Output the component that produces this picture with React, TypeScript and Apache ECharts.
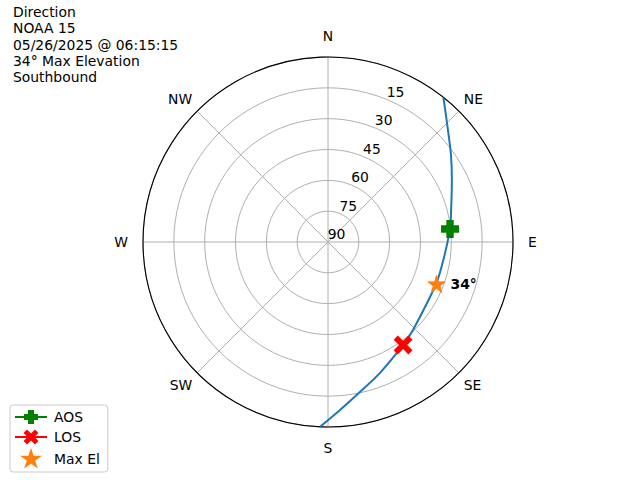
import React, { useEffect, useRef } from "react";
import * as echarts from "echarts";

// Pass track: azimuth (deg, clockwise from north) and elevation (deg)
const trackAz = [38.6, 47.0, 54.7, 63.4, 76.7, 83.9, 98.9, 111.1, 136.0, 143.9, 158.3, 168.0, 175.9, 182.5];
const trackEl = [0.0, 10.2, 16.7, 22.6, 28.5, 30.3, 33.2, 33.6, 30.5, 28.0, 21.5, 15.4, 8.1, 0.0];

const aosPoint = { az: 83.9, el: 30.3 };
const losPoint = { az: 143.9, el: 28.0 };
const maxElPoint = { az: 111.1, el: 33.4 };

const compassValues = [0, 45, 90, 135, 180, 225, 270, 315];
const compassLabels = ["N", "NE", "E", "SE", "S", "SW", "W", "NW"];
const titleLines = ["Direction", "NOAA 15", "05/26/2025 @ 06:15:15", "34° Max Elevation", "Southbound"];
const maxElLabel = "34°";

const PLUS = "path://M-1,-3 L1,-3 L1,-1 L3,-1 L3,1 L1,1 L1,3 L-1,3 L-1,1 L-3,1 L-3,-1 L-1,-1 Z";
const XMARK = "path://M-3,-2 L-2,-3 L0,-1 L2,-3 L3,-2 L1,0 L3,2 L2,3 L0,1 L-2,3 L-3,2 L-1,0 Z";
const STAR = "path://M0,-1 L0.2245,-0.309 L0.951,-0.309 L0.363,0.118 L0.588,0.809 L0,0.382 L-0.588,0.809 L-0.363,0.118 L-0.951,-0.309 L-0.2245,-0.309 Z";

const FONT = "DejaVu Sans";
const FS = 13.9;

export default function App() {
  const ref = useRef<HTMLDivElement>(null);
  useEffect(() => {
    if (!ref.current) return;
    const chart = echarts.init(ref.current, null, { renderer: "svg" });
    const richKey: Record<string, string> = { N: "n", S: "s", E: "e", W: "w" };
    const option: any = {
      animation: false,
      backgroundColor: "#ffffff",
      textStyle: { fontFamily: FONT },
      title: {
        text: titleLines.join("\n"),
        left: 13,
        top: 4,
        padding: 0,
        textStyle: { fontFamily: FONT, fontSize: FS, fontWeight: "normal", color: "#000", lineHeight: 16.3 },
      },
      legend: {
        orient: "vertical",
        left: 10,
        top: 405,
        padding: [5, 8, 5, 4],
        itemWidth: 32,
        itemHeight: 15,
        itemGap: 6,
        borderColor: "#cccccc",
        borderWidth: 1,
        borderRadius: 3,
        backgroundColor: "#ffffff",
        textStyle: { fontFamily: FONT, fontSize: FS, color: "#000", padding: [0, 0, 0, 2] },
        data: ["AOS", "LOS", "Max El"],
      },
      polar: [
        { center: [328, 242], radius: 185 },
        { center: [336.5, 234], radius: 185 },
      ],
      angleAxis: [
        {
          polarIndex: 0,
          type: "value",
          min: 0,
          max: 360,
          interval: 45,
          startAngle: 90,
          clockwise: true,
          axisLine: { lineStyle: { color: "#000", width: 1.1 } },
          axisTick: { show: false },
          splitLine: { lineStyle: { color: "#b0b0b0", width: 1 } },
          axisLabel: {
            margin: 7,
            color: "#000",
            fontFamily: FONT,
            fontSize: FS,
            formatter: (v: number) => {
              const i = compassValues.indexOf(v);
              if (i < 0) return "";
              const lab = compassLabels[i];
              const k = richKey[lab] || "d";
              return `{${k}|${lab}}`;
            },
            rich: {
              n: { padding: [0, 0, 7, 0], fontSize: FS, fontFamily: FONT, color: "#000" },
              s: { padding: [7, 0, 0, 0], fontSize: FS, fontFamily: FONT, color: "#000" },
              e: { padding: [0, 0, 0, 8], fontSize: FS, fontFamily: FONT, color: "#000" },
              w: { padding: [0, 8, 0, 0], fontSize: FS, fontFamily: FONT, color: "#000" },
              d: { fontSize: FS, fontFamily: FONT, color: "#000" },
            },
          },
        },
        {
          polarIndex: 1,
          type: "value",
          min: 0,
          max: 360,
          startAngle: 67.5,
          clockwise: true,
          show: false,
        },
      ],
      radiusAxis: [
        {
          polarIndex: 0,
          type: "value",
          min: 0,
          max: 90,
          interval: 15,
          inverse: true,
          axisLine: { show: false },
          axisTick: { show: false },
          axisLabel: { show: false },
          splitLine: { lineStyle: { color: "#b0b0b0", width: 1 } },
        },
        {
          polarIndex: 1,
          type: "value",
          min: 0,
          max: 90,
          interval: 15,
          inverse: true,
          axisLine: { show: false },
          axisTick: { show: false },
          splitLine: { show: false },
          axisLabel: {
            margin: 0,
            align: "center",
            verticalAlign: "middle",
            color: "#000",
            fontFamily: FONT,
            fontSize: FS,
            formatter: (v: number) => (v === 0 ? "" : String(v)),
          },
        },
      ],
      series: [
        {
          name: "Track",
          type: "line",
          coordinateSystem: "polar",
          polarIndex: 0,
          smooth: 0.3,
          showSymbol: false,
          symbol: "none",
          lineStyle: { color: "#1f77b4", width: 2 },
          data: trackAz.map((a, i) => [trackEl[i], a]),
          z: 2,
        },
        {
          name: "AOS",
          type: "line",
          coordinateSystem: "polar",
          polarIndex: 0,
          symbol: PLUS,
          symbolSize: 16,
          showSymbol: true,
          itemStyle: { color: "#008000", borderColor: "#008000", borderWidth: 2, opacity: 1 },
          lineStyle: { color: "#008000", width: 2 },
          data: [[aosPoint.el, aosPoint.az]],
          z: 5,
        },
        {
          name: "LOS",
          type: "line",
          coordinateSystem: "polar",
          polarIndex: 0,
          symbol: XMARK,
          symbolSize: 16,
          showSymbol: true,
          itemStyle: { color: "#ff0000", borderColor: "#ff0000", borderWidth: 2, opacity: 1 },
          lineStyle: { color: "#ff0000", width: 2 },
          data: [[losPoint.el, losPoint.az]],
          z: 5,
        },
        {
          name: "Max El",
          type: "scatter",
          coordinateSystem: "polar",
          polarIndex: 0,
          symbol: STAR,
          symbolSize: 17,
          itemStyle: { color: "#ff7f0e", borderColor: "#ff7f0e", borderWidth: 1, opacity: 1 },
          label: {
            show: true,
            position: "right",
            distance: 5,
            formatter: maxElLabel,
            fontFamily: FONT,
            fontSize: FS,
            fontWeight: "bold",
            color: "#000",
          },
          data: [[maxElPoint.el, maxElPoint.az]],
          z: 5,
        },
      ],
    };
    chart.setOption(option);
    return () => chart.dispose();
  }, []);
  return (
    <div
      ref={ref}
      style={{ position: "fixed", left: 0, top: 0, width: 640, height: 480, background: "#fff" }}
    />
  );
}
